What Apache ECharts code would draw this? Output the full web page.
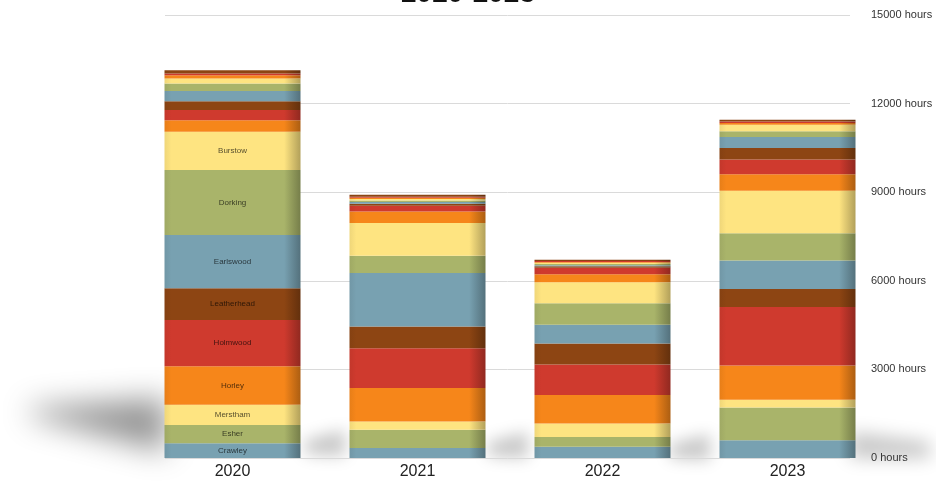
<!DOCTYPE html>
<html>
<head>
<meta charset="utf-8">
<script src="https://cdn.jsdelivr.net/npm/echarts@6/dist/echarts.min.js"></script>
<style>html,body{margin:0;padding:0;background:#fff}#c{width:936px;height:485px}</style>
</head>
<body>
<div id="c"></div>
<script>
const categories = ['2020', '2021', '2022', '2023'];
const yTicks = [0, 3000, 6000, 9000, 12000, 15000];
const titleText = '2020-2023';

const crawley     = [500, 340, 380, 600];
const esher       = [620, 620, 330, 1110];
const merstham    = [680, 280, 460, 260];
const horley      = [1310, 1130, 960, 1160];
const holmwood    = [1560, 1350, 1040, 1980];
const leatherhead = [1080, 730, 710, 610];
const earlswood   = [1800, 1810, 630, 970];
const dorking     = [2200, 590, 730, 920];
const burstow     = [1300, 1110, 710, 1440];
const series10    = [390, 390, 270, 560];
const series11    = [340, 190, 220, 500];
const series12    = [300, 70, 50, 390];
const series13    = [350, 60, 40, 370];
const series14    = [250, 50, 40, 190];
const series15    = [170, 50, 40, 220];
const series16    = [110, 40, 30, 60];
const series17    = [60, 40, 30, 50];
const series18    = [110, 60, 40, 60];

const seriesNames = ['Crawley', 'Esher', 'Merstham', 'Horley', 'Holmwood', 'Leatherhead', 'Earlswood', 'Dorking', 'Burstow',
  'Series 10', 'Series 11', 'Series 12', 'Series 13', 'Series 14', 'Series 15', 'Series 16', 'Series 17', 'Series 18'];
const seriesValues = [crawley, esher, merstham, horley, holmwood, leatherhead, earlswood, dorking, burstow,
  series10, series11, series12, series13, series14, series15, series16, series17, series18];
const labelledCount = 9;

const palette = ['#78a1b1', '#a9b46a', '#fee481', '#f6861a', '#cf3a2e', '#8d4513'];

function shade(hex, f) {
  const n = parseInt(hex.slice(1), 16);
  let r = (n >> 16) & 255, g = (n >> 8) & 255, b = n & 255;
  if (f < 0) { r = r * (1 + f); g = g * (1 + f); b = b * (1 + f); }
  else { r = r + (255 - r) * f; g = g + (255 - g) * f; b = b + (255 - b) * f; }
  return 'rgb(' + Math.round(r) + ',' + Math.round(g) + ',' + Math.round(b) + ')';
}

const chart = echarts.init(document.getElementById('c'));
const FONT = 'Liberation Sans, Arial, sans-serif';

const series = seriesNames.map((name, i) => {
  const base = palette[i % palette.length];
  return {
    name: name,
    type: 'bar',
    stack: 'total',
    xAxisIndex: 0,
    yAxisIndex: 0,
    barWidth: 136,
    data: seriesValues[i],
    itemStyle: {
      color: new echarts.graphic.LinearGradient(0, 0, 1, 0, [
        { offset: 0, color: shade(base, -0.06) },
        { offset: 0.05, color: base },
        { offset: 0.88, color: base },
        { offset: 1, color: shade(base, -0.3) }
      ])
    },
    label: {
      show: i < labelledCount,
      position: 'inside',
      fontSize: 8,
      fontFamily: FONT,
      color: 'rgba(0,0,0,0.68)',
      formatter: p => (p.dataIndex === 0 ? p.seriesName : '')
    },
    emphasis: { disabled: true }
  };
});

// soft shadow: shape moved off-canvas, only its blurred shadow shows
function softShadow(points, alpha, blur) {
  return {
    type: 'polygon', z: 0, silent: true,
    shape: { points: points.map(p => [p[0], p[1] - 1000]) },
    style: { fill: '#000', shadowColor: 'rgba(0,0,0,' + alpha + ')', shadowBlur: blur, shadowOffsetY: 1000 }
  };
}

chart.setOption({
  animation: false,
  backgroundColor: '#ffffff',
  title: {
    text: titleText,
    left: 'center',
    top: -25,
    textStyle: { fontSize: 28, fontWeight: 'bold', color: '#111', fontFamily: FONT }
  },
  grid: [
    { left: 140, right: 56, top: 15, bottom: 27 },
    { left: 165, right: 86, top: 15, bottom: 27 }
  ],
  xAxis: [
    {
      gridIndex: 0,
      type: 'category',
      data: categories,
      axisLine: { show: false },
      axisTick: { show: false },
      axisLabel: { fontSize: 16, color: '#222', margin: 6, fontFamily: FONT }
    },
    { gridIndex: 1, type: 'value', show: false }
  ],
  yAxis: [
    {
      gridIndex: 0, type: 'value', min: yTicks[0], max: yTicks[yTicks.length - 1], interval: 3000,
      show: false, splitLine: { show: false }
    },
    {
      gridIndex: 1,
      type: 'value',
      position: 'right',
      min: yTicks[0],
      max: yTicks[yTicks.length - 1],
      interval: 3000,
      axisLine: { show: false },
      axisTick: { show: false },
      splitLine: { lineStyle: { color: '#dadada', width: 1 } },
      axisLabel: { fontSize: 11, color: '#333', margin: 21, formatter: v => v + ' hours', fontFamily: FONT }
    }
  ],
  graphic: [
    softShadow([[30, 408], [166, 398], [166, 452], [30, 416]], 0.42, 30),
    softShadow([[305, 440], [345, 430], [345, 456], [305, 454]], 0.22, 16),
    softShadow([[488, 442], [528, 432], [528, 458], [488, 456]], 0.22, 16),
    softShadow([[670, 444], [710, 434], [710, 460], [670, 458]], 0.22, 16),
    softShadow([[850, 432], [930, 442], [930, 458], [850, 458]], 0.22, 18)
  ],
  series: series
});
</script>
</body>
</html>
